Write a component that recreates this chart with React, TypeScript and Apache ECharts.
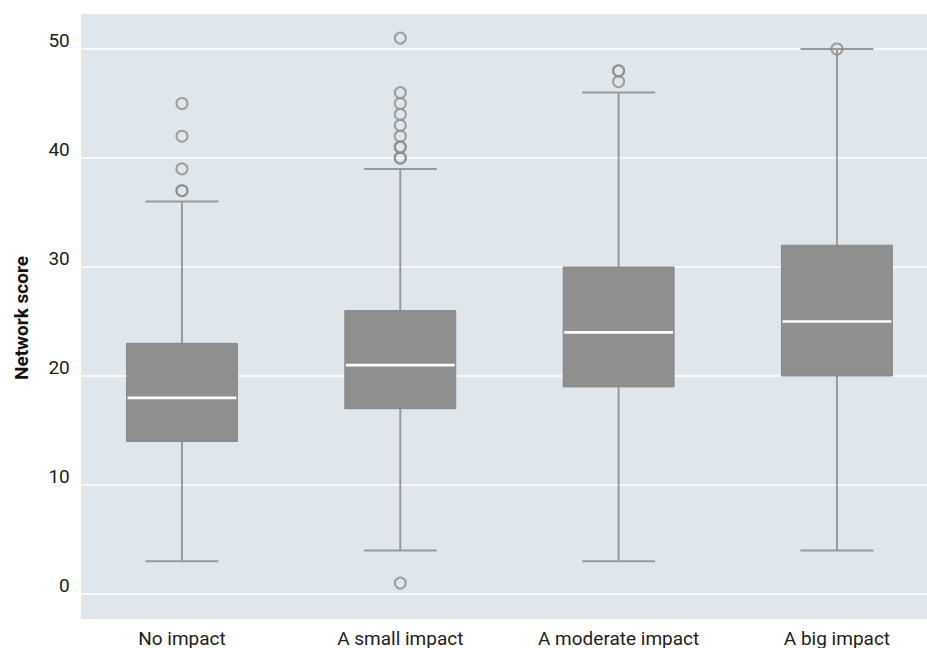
import React, { useEffect, useRef } from 'react';
import * as echarts from 'echarts';

const categories = ['No impact', 'A small impact', 'A moderate impact', 'A big impact'];
const whiskerLow = [3, 4, 3, 4];
const q1 = [14, 17, 19, 20];
const median = [18, 21, 24, 25];
const q3 = [23, 26, 30, 32];
const whiskerHigh = [36, 39, 46, 50];
const outliers: number[][] = [
  [37, 37, 39, 42, 45],
  [1, 40, 40, 41, 41, 42, 43, 44, 45, 46, 51],
  [47, 48, 48],
  [50],
];
const yTicks = [0, 10, 20, 30, 40, 50];
const yTitle = 'Network score';

const FONT = 'Roboto, "Liberation Sans", Arial, sans-serif';

export default function App() {
  const ref = useRef<HTMLDivElement>(null);
  useEffect(() => {
    if (!ref.current) return;
    const chart = echarts.init(ref.current, null, { renderer: 'svg' });
    const boxData = categories.map((_, i) => [i, whiskerLow[i], q1[i], median[i], q3[i], whiskerHigh[i]]);
    const outlierData: any[] = [];
    outliers.forEach((arr, i) => arr.forEach((v) => outlierData.push([i, v])));
    chart.setOption({
      animation: false,
      backgroundColor: '#ffffff',
      graphic: {
        elements: [
          {
            type: 'rect',
            z: -100,
            silent: true,
            shape: { x: 81, y: 14, width: 846, height: 605 },
            style: { fill: '#dfe6ec' },
          },
          {
            type: 'text',
            x: 21,
            y: 318,
            rotation: Math.PI / 2,
            silent: true,
            style: {
              text: yTitle,
              font: `bold 19px ${FONT}`,
              fill: '#111111',
              textAlign: 'center',
              textVerticalAlign: 'middle',
            },
          },
        ],
      },
      grid: {
        left: 72.8,
        width: 873.3,
        top: 49,
        height: 545,
        containLabel: false,
        outerBoundsMode: 'none',
      },
      xAxis: {
        type: 'category',
        data: categories,
        boundaryGap: true,
        axisLine: { show: false },
        axisTick: { show: false },
        splitLine: { show: false },
        axisLabel: { color: '#222222', fontSize: 19, fontFamily: FONT, margin: 35 },
      },
      yAxis: {
        type: 'value',
        min: yTicks[0],
        max: yTicks[yTicks.length - 1],
        interval: 10,
        axisLine: { show: false },
        axisTick: { show: false },
        splitLine: { show: true, lineStyle: { color: '#ffffff', width: 1.7 } },
        axisLabel: {
          color: '#222222',
          fontSize: 19,
          fontFamily: FONT,
          margin: 3,
          verticalAlign: 'bottom',
          lineHeight: 19,
          padding: [0, 0, -1, 0],
        },
      },
      series: [
        {
          type: 'custom',
          data: boxData,
          encode: { x: 0, y: [1, 2, 3, 4, 5] },
          z: 2,
          renderItem: (params: any, api: any) => {
            const i = api.value(0);
            const band = api.size([1, 0])[0];
            const boxHalf = band * 0.254;
            const capHalf = band * 0.167;
            const lo = api.coord([i, api.value(1)]);
            const p1 = api.coord([i, api.value(2)]);
            const pm = api.coord([i, api.value(3)]);
            const p3 = api.coord([i, api.value(4)]);
            const hi = api.coord([i, api.value(5)]);
            const x = lo[0];
            const wStyle = { stroke: '#9a9a9a', lineWidth: 2 };
            return {
              type: 'group',
              children: [
                { type: 'line', shape: { x1: x, y1: lo[1], x2: x, y2: hi[1] }, style: wStyle },
                { type: 'line', shape: { x1: x - capHalf, y1: lo[1], x2: x + capHalf, y2: lo[1] }, style: wStyle },
                { type: 'line', shape: { x1: x - capHalf, y1: hi[1], x2: x + capHalf, y2: hi[1] }, style: wStyle },
                {
                  type: 'rect',
                  shape: { x: x - boxHalf, y: p3[1], width: boxHalf * 2, height: p1[1] - p3[1] },
                  style: { fill: '#8f8f8f', stroke: '#888888', lineWidth: 1 },
                },
                {
                  type: 'line',
                  shape: { x1: x - boxHalf + 1, y1: pm[1], x2: x + boxHalf - 1, y2: pm[1] },
                  style: { stroke: '#ffffff', lineWidth: 2.7 },
                },
              ],
            };
          },
        },
        {
          type: 'scatter',
          data: outlierData,
          clip: false,
          z: 3,
          symbol: 'circle',
          symbolSize: 11,
          itemStyle: { color: 'rgba(0,0,0,0)', borderColor: '#8c8c8c', borderWidth: 2 },
        },
      ],
    });
    return () => chart.dispose();
  }, []);
  return <div ref={ref} style={{ position: 'absolute', left: 0, top: 0, width: 927, height: 648 }} />;
}
